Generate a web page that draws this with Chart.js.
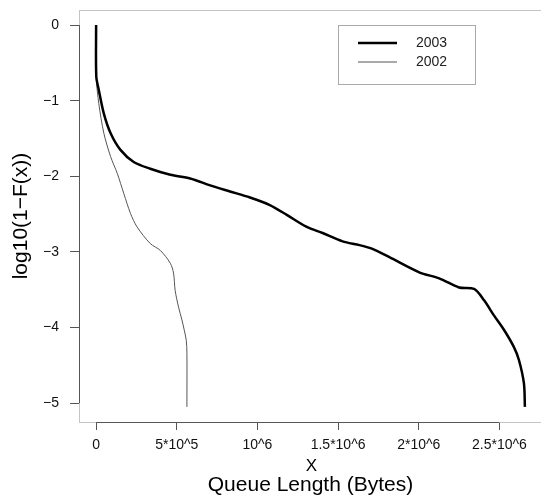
<!DOCTYPE html>
<html>
<head>
<meta charset="utf-8">
<script src="https://cdn.jsdelivr.net/npm/chart.js@4/dist/chart.umd.min.js"></script>
<style>
  html, body { margin: 0; padding: 0; background: #fff; overflow: hidden; }
  #wrap { width: 545px; height: 497px; }
</style>
</head>
<body>
<div id="wrap"><canvas id="cdf"></canvas></div>
<script>
// queue length (bytes) vs log10(1-F(x))
const x2003 = [0, 1.2e3, 1.7e4, 4.8e4, 9e4, 1.51e5, 2.33e5, 3.36e5, 4.6e5, 5.83e5, 7.07e5, 8.3e5, 9.54e5,
  1.077e6, 1.182e6, 1.306e6, 1.404e6, 1.528e6, 1.633e6, 1.713e6, 1.818e6, 2.003e6, 2.127e6, 2.25e6,
  2.343e6, 2.405e6, 2.466e6, 2.528e6, 2.59e6, 2.621e6, 2.652e6, 2.658e6];
const y2003 = [0, -0.68, -0.86, -1.17, -1.43, -1.65, -1.81, -1.90, -1.98, -2.03, -2.12, -2.20, -2.28,
  -2.38, -2.51, -2.67, -2.75, -2.86, -2.91, -2.96, -3.07, -3.27, -3.35, -3.47,
  -3.49, -3.64, -3.84, -4.03, -4.26, -4.43, -4.74, -5.05];

const x2002 = [0, 1.2e3, 1.7e4, 4.8e4, 9e4, 1.31e5, 1.72e5, 2.13e5, 2.54e5, 3.36e5, 3.98e5, 4.6e5,
  4.8e5, 4.9e5, 5.11e5, 5.32e5, 5.46e5, 5.59e5, 5.63e5, 5.63e5];
const y2002 = [0, -0.70, -1.04, -1.43, -1.74, -1.96, -2.23, -2.49, -2.67, -2.89, -2.98, -3.15,
  -3.28, -3.51, -3.73, -3.90, -4.03, -4.17, -4.34, -5.05];

const xTicks = [0, 5e5, 1e6, 1.5e6, 2e6, 2.5e6];
const xTickLabels = ['0', '5*10^5', '10^6', '1.5*10^6', '2*10^6', '2.5*10^6'];
const yTicks = [-5, -4, -3, -2, -1, 0];
const yTickLabels = ['\u22125', '\u22124', '\u22123', '\u22122', '\u22121', '0'];

const FONT = '"Liberation Sans", Arial, Helvetica, sans-serif';

const pairs = (xs, ys) => xs.map((x, i) => ({ x, y: ys[i] }));

// no extra room for half-labels, keep the plot box where R put it
const noScalePad = (s) => {
  s.paddingTop = 0;
  s.paddingBottom = 0;
  s.paddingLeft = 0;
  s.paddingRight = 0;
};

const rFrame = {
  id: 'rFrame',
  afterDraw(chart) {
    const { ctx, chartArea: a, scales } = chart;
    const xs = scales.x, ys = scales.y;
    ctx.save();
    // light box
    ctx.strokeStyle = '#c4c4c4';
    ctx.lineWidth = 1;
    ctx.strokeRect(a.left + 0.5, a.top + 0.5, a.right - a.left, a.bottom - a.top);
    // axis lines between first and last tick
    ctx.strokeStyle = '#555';
    ctx.beginPath();
    ctx.moveTo(a.left + 0.5, ys.getPixelForValue(yTicks[0]));
    ctx.lineTo(a.left + 0.5, ys.getPixelForValue(yTicks[yTicks.length - 1]));
    ctx.moveTo(xs.getPixelForValue(xTicks[0]), a.bottom + 0.5);
    ctx.lineTo(xs.getPixelForValue(xTicks[xTicks.length - 1]), a.bottom + 0.5);
    ctx.stroke();

    // axis titles
    ctx.fillStyle = '#000';
    ctx.textAlign = 'center';
    ctx.textBaseline = 'middle';
    const cx = (a.left + a.right) / 2;
    ctx.font = '17px ' + FONT;
    ctx.fillText('X', cx + 1, 466);
    ctx.font = '21px ' + FONT;
    ctx.fillText('Queue Length (Bytes)', cx, 485);
    ctx.save();
    ctx.translate(21, 216);
    ctx.rotate(-Math.PI / 2);
    ctx.fillText('log10(1\u2212F(x))', 0, 0);
    ctx.restore();

    // legend
    const lx = 338, ly = 25, lw = 137, lh = 59;
    ctx.strokeStyle = '#aaa';
    ctx.strokeRect(lx + 0.5, ly + 0.5, lw, lh);
    ctx.font = '14px ' + FONT;
    ctx.textAlign = 'left';
    chart.data.datasets.forEach((ds, i) => {
      const yy = 43 + i * 19;
      ctx.strokeStyle = ds.borderColor;
      ctx.lineWidth = ds.borderWidth;
      ctx.beginPath();
      ctx.moveTo(358, yy);
      ctx.lineTo(397, yy);
      ctx.stroke();
      ctx.fillStyle = '#222';
      ctx.fillText(ds.label, 416, yy);
    });
    ctx.restore();
  }
};

new Chart(document.getElementById('cdf'), {
  type: 'scatter',
  data: {
    datasets: [
      {
        label: '2003',
        data: pairs(x2003, y2003),
        showLine: true,
        borderColor: '#000',
        borderWidth: 2.5,
        pointRadius: 0,
        tension: 0.3,
      },
      {
        label: '2002',
        data: pairs(x2002, y2002),
        showLine: true,
        borderColor: '#555',
        borderWidth: 1,
        pointRadius: 0,
        tension: 0.3,
      },
    ],
  },
  options: {
    responsive: true,
    maintainAspectRatio: false,
    animation: false,
    layout: { autoPadding: false, padding: { left: 0, top: 10, right: 3, bottom: 0 } },
    plugins: {
      legend: { display: false },
      tooltip: { enabled: false },
    },
    scales: {
      x: {
        type: 'linear',
        min: -1.06e5,
        max: 2.764e6,
        afterFit: (s) => { s.height = 75; noScalePad(s); },
        afterBuildTicks: (s) => { s.ticks = xTicks.map((v) => ({ value: v })); },
        border: { display: false },
        grid: { drawOnChartArea: false, drawTicks: true, tickLength: 8, color: '#555' },
        ticks: {
          autoSkip: false,
          maxRotation: 0,
          padding: 7,
          color: '#111',
          font: { family: FONT, size: 14 },
          callback: (v) => xTickLabels[xTicks.indexOf(v)],
        },
      },
      y: {
        type: 'linear',
        min: -5.25,
        max: 0.2,
        afterFit: (s) => { s.width = 79; noScalePad(s); },
        afterBuildTicks: (s) => { s.ticks = yTicks.map((v) => ({ value: v })); },
        border: { display: false },
        grid: { drawOnChartArea: false, drawTicks: true, tickLength: 9, color: '#555' },
        ticks: {
          autoSkip: false,
          padding: 11,
          color: '#111',
          font: { family: FONT, size: 14 },
          callback: (v) => yTickLabels[yTicks.indexOf(v)],
        },
      },
    },
  },
  plugins: [rFrame],
});
</script>
</body>
</html>
